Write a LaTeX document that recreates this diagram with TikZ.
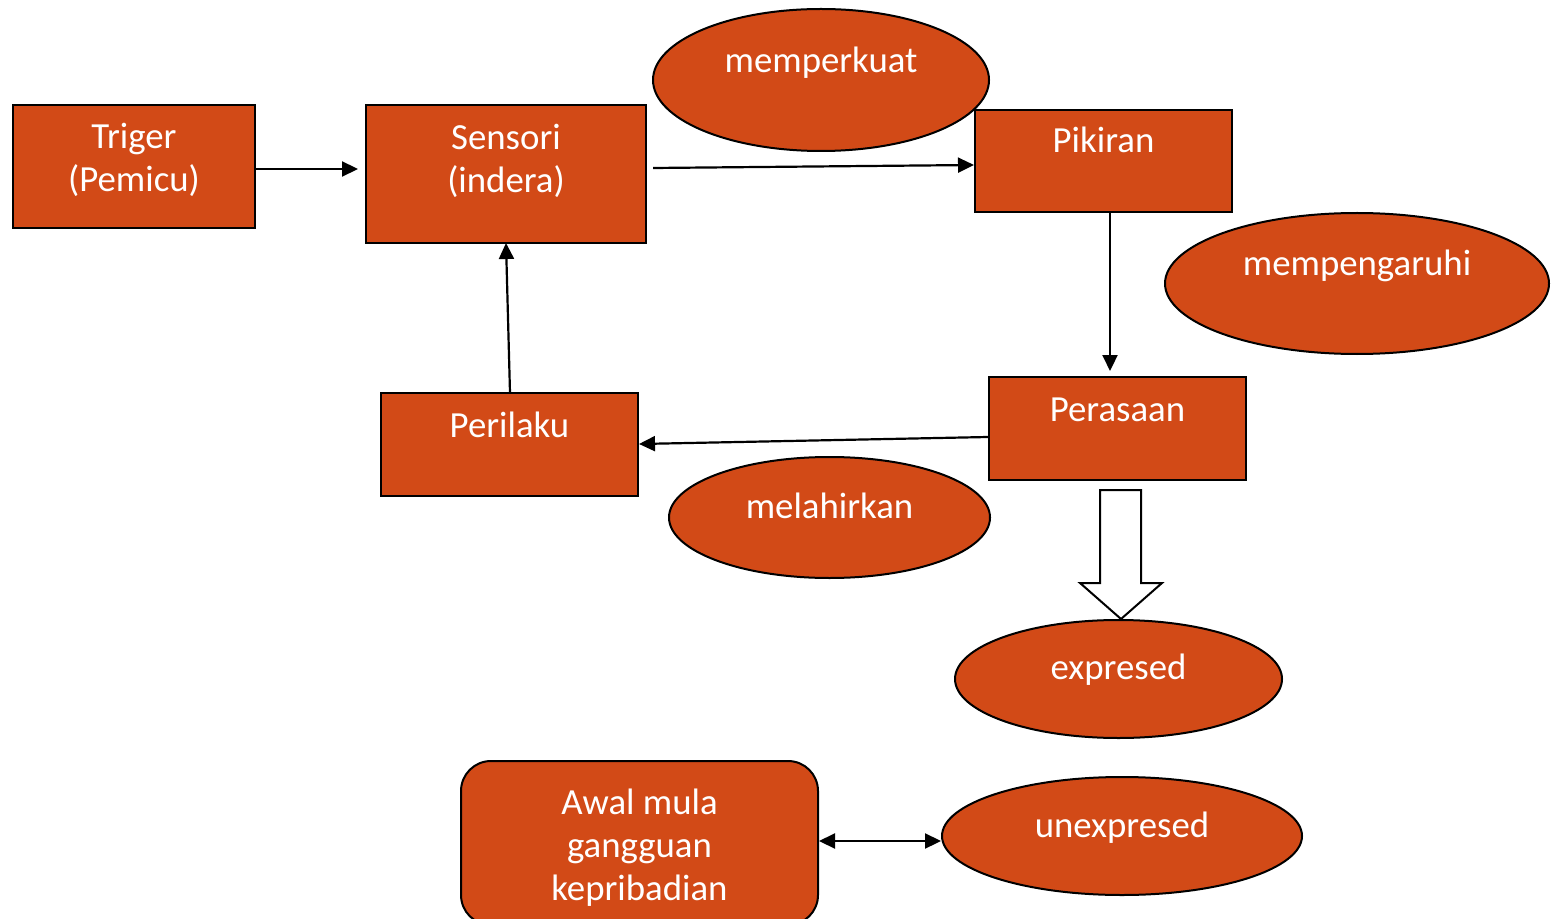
\documentclass[tikz,border=0pt]{standalone}
\usepackage{fontspec}
\setmainfont{Carlito}
\usetikzlibrary{arrows.meta,shapes.geometric}
\definecolor{burnt}{HTML}{D24A17}
\tikzset{
  box/.style={draw=black,line width=1pt,fill=burnt,inner sep=0pt},
  oval/.style={draw=black,line width=1pt,fill=burnt,ellipse,inner sep=0pt},
  lbl/.style={text=white,align=center,anchor=base,inner sep=0pt,font=\fontsize{18.4}{21.5}\selectfont},
  conn/.style={line width=1.1pt,-{Triangle[length=8pt,width=7.5pt]}},
  dconn/.style={line width=1.1pt,{Triangle[length=8pt,width=7.5pt]}-{Triangle[length=8pt,width=7.5pt]}},
}
\begin{document}
\begin{tikzpicture}[x=0.5pt,y=-0.5pt]
\useasboundingbox (0,0) rectangle (1556,919);
\clip (0,0) rectangle (1556,919);
\fill[white] (0,0) rectangle (1556,919);
% boxes
\node[box,minimum width=121pt,minimum height=61.5pt] (trig) at (134,166.5) {};
\node[lbl] (trigT) at (134,192) {Triger\\(Pemicu)};
\node[box,minimum width=140pt,minimum height=69pt] (sens) at (506,174) {};
\node[lbl] (sensT) at (506,193) {Sensori\\(indera)};
\node[box,minimum width=128.5pt,minimum height=51pt] (pik) at (1103.5,161) {};
\node[lbl] (pikT) at (1103.5,153) {Pikiran};
\node[box,minimum width=128.5pt,minimum height=51.5pt] (peras) at (1117.5,428.5) {};
\node[lbl] (perasT) at (1117.5,421) {Perasaan};
\node[box,minimum width=128.5pt,minimum height=51.5pt] (peri) at (509.5,444.5) {};
\node[lbl] (periT) at (509.5,437) {Perilaku};
\node[box,rounded corners=15pt,minimum width=178.5pt,minimum height=82pt] (awal) at (639.5,843) {};
\node[lbl] (awalT) at (639.5,900) {Awal mula\\gangguan\\kepribadian};
% ellipses
\node[oval,minimum width=168pt,minimum height=71pt] (memp) at (821,80) {};
\node[lbl] (mempT) at (821,73) {memperkuat};
\node[oval,minimum width=192pt,minimum height=70.5pt] (meng) at (1357,283.5) {};
\node[lbl] (mengT) at (1357,276) {mempengaruhi};
\node[oval,minimum width=160.5pt,minimum height=60.5pt] (mel) at (829.5,517.5) {};
\node[lbl] (melT) at (829.5,518) {melahirkan};
\node[oval,minimum width=163.5pt,minimum height=59pt] (expr) at (1118.5,679) {};
\node[lbl] (exprT) at (1118.5,679) {expresed};
\node[oval,minimum width=180pt,minimum height=59pt] (unex) at (1122,836) {};
\node[lbl] (unexT) at (1122,837) {unexpresed};
% connector end points
\coordinate (a1) at (trig.east |- 0,169);
\coordinate (a2) at (358,169);
\coordinate (b1) at (653,168);
\coordinate (b2) at (pik.west |- 0,165);
\coordinate (c1) at (1110,212);
\coordinate (c2) at (1110,371);
\coordinate (d1) at (peras.west |- 0,437);
\coordinate (d2) at (peri.east |- 0,444);
\coordinate (e1) at (510,393);
\coordinate (e2) at (506,243);
\coordinate (f1) at (awal.east |- 0,841);
\coordinate (f2) at (unex.west |- 0,841);
\draw[conn] (a1) -- (a2);
\draw[conn] (b1) -- (b2);
\draw[conn] (c1) -- (c2);
\draw[conn] (d1) -- (d2);
\draw[conn] (e1) -- (e2);
\draw[dconn] (f1) -- (f2);
% hollow block arrow
\draw[line width=1pt,fill=white,line join=miter] (1100,490) -- (1141,490) -- (1141,583) -- (1162,583) -- (1121,619) -- (1080,583) -- (1100,583) -- cycle;
\end{tikzpicture}
\end{document}
